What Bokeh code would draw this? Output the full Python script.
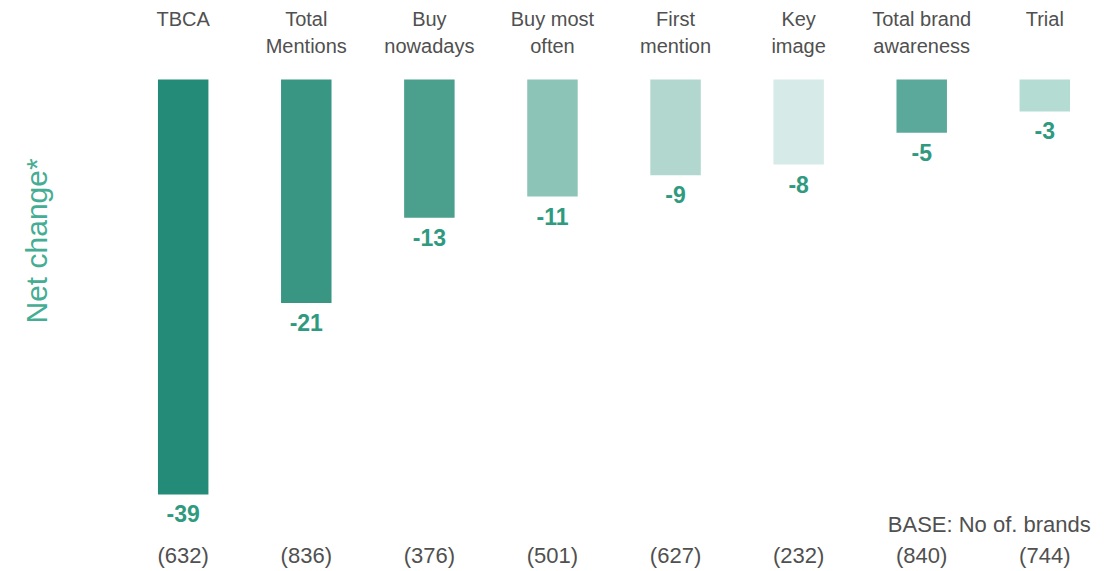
import math
from bokeh.plotting import figure
from bokeh.models import FactorRange, Range1d, ColumnDataSource, Title
from bokeh.core.properties import value
from bokeh.embed import file_html
from bokeh.resources import INLINE

categories = ["TBCA", "Total Mentions", "Buy nowadays", "Buy most often",
              "First mention", "Key image", "Total brand awareness", "Trial"]
header_labels = ["TBCA", "Total\nMentions", "Buy\nnowadays", "Buy most\noften",
                 "First\nmention", "Key\nimage", "Total brand\nawareness", "Trial"]
net_change = [-39, -21, -13, -11, -9, -8, -5, -3]
base_n = [632, 836, 376, 501, 627, 232, 840, 744]
bar_colors = ["#238b77", "#389683", "#4a9f8d", "#8cc4b8",
              "#b1d7ce", "#d6ebe7", "#5aa99a", "#b5dcd3"]

FONT = "Liberation Sans"
TEAL_TEXT = "#2f9a80"
GRAY = "#505050"

src = ColumnDataSource(dict(
    cat=categories,
    val=net_change,
    top=[0] * len(categories),
    head=header_labels,
    lab=[str(v) for v in net_change],
    base=["(%d)" % b for b in base_n],
    color=bar_colors,
))

p = figure(width=1112, height=571, output_backend="svg", toolbar_location=None,
           x_range=FactorRange(factors=categories, range_padding=0.05,
                               range_padding_units="absolute"),
           y_range=Range1d(-46.24, 7.42),
           x_axis_location=None, y_axis_location=None,
           min_border_left=115, min_border_right=0,
           min_border_top=0, min_border_bottom=0)
p.outline_line_color = None
p.xgrid.visible = False
p.ygrid.visible = False
p.background_fill_color = "white"

p.vbar(x="cat", top="top", bottom="val", width=0.41, fill_color="color",
       line_color=None, source=src)

# value labels below bars
p.text(x="cat", y="val", text="lab", source=src, text_align="center",
       text_baseline="top", y_offset=11, text_font=value(FONT),
       text_font_size="23px", text_font_style="bold", text_color=TEAL_TEXT)

# header labels
p.text(x="cat", y=7.42, text="head", source=src, text_align="center",
       text_baseline="top", y_offset=7, text_font=value(FONT),
       text_font_size="20px", text_color=GRAY, text_line_height=1.25)

# base values
p.text(x="cat", y=-44.7, text="base", source=src, text_align="center",
       text_baseline="middle", text_font=value(FONT),
       text_font_size="22px", text_color=GRAY)

p.text(x=["Trial"], y=[-41.8], text=["BASE: No of. brands"], x_offset=46,
       text_align="right", text_baseline="middle", text_font=value(FONT),
       text_font_size="22px", text_color=GRAY)

# spacer panel next to the frame, then the vertical title further out
p.add_layout(Title(text=" ", text_font_size="10px", standoff=33), "left")
p.add_layout(Title(text="Net change*", align="left", offset=248,
                   standoff=33, text_font=FONT, text_font_size="30px",
                   text_font_style="normal", text_color="#45ad93"), "left")

open("out.html", "w").write(file_html(p, INLINE))
